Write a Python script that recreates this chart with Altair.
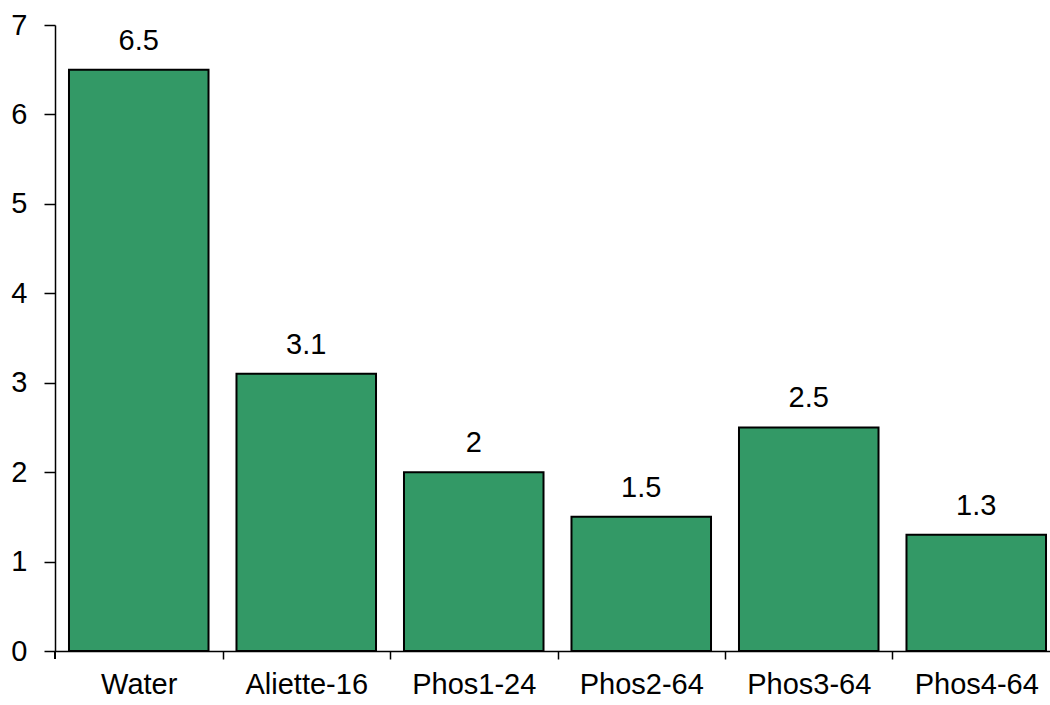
import altair as alt
import pandas as pd

categories = ["Water", "Aliette-16", "Phos1-24", "Phos2-64", "Phos3-64", "Phos4-64"]
values = [6.5, 3.1, 2.0, 1.5, 2.5, 1.3]
labels = ["6.5", "3.1", "2", "1.5", "2.5", "1.3"]
y_ticks = [0, 1, 2, 3, 4, 5, 6, 7]

df = pd.DataFrame({"cat": categories, "val": values, "lab": labels})

FONT = "Liberation Sans"
FS = 29

x_axis = alt.Axis(
    labelAngle=0,
    labelFont=FONT,
    labelFontSize=FS,
    labelColor="black",
    labelPadding=11,
    tickOffset=83.75,
    labelOffset=-83.75,
    tickSize=8,
    tickColor="black",
    tickWidth=1.5,
    domainColor="black",
    domainWidth=1.5,
    grid=False,
)
x_scale = alt.Scale(range=[0, 1005], paddingInner=0.167, paddingOuter=0.0835)

y_axis = alt.Axis(
    values=y_ticks,
    format="d",
    labelFont=FONT,
    labelFontSize=FS,
    labelColor="black",
    labelPadding=17,
    tickSize=11,
    tickColor="black",
    tickWidth=1.5,
    domainColor="black",
    domainWidth=1.5,
    grid=False,
)
y_scale = alt.Scale(domain=[0, 7], nice=False, zero=True)

x = alt.X("cat:N", sort=categories, title=None, scale=x_scale, axis=x_axis)
y = alt.Y("val:Q", title=None, scale=y_scale, axis=y_axis)

bars = alt.Chart(df).mark_bar(
    color="#339966", stroke="black", strokeWidth=2
).encode(x=x, y=y)

text = alt.Chart(df).mark_text(
    font=FONT, fontSize=FS, color="black", baseline="alphabetic", dy=-20
).encode(x=x, y=y, text="lab:N")

first_tick = alt.Chart(df).mark_rule(color="black", strokeWidth=1.5).encode(
    x=alt.value(0), y=alt.value(626), y2=alt.value(634)
)

chart = (
    alt.layer(bars, text, first_tick)
    .properties(
        width=995,
        height=626,
        background="white",
        autosize=alt.AutoSizeParams(type="none"),
        padding={"left": 55, "top": 25, "right": 0, "bottom": 54},
    )
    .configure_view(strokeWidth=0, strokeOpacity=0)
    .configure_axis(grid=False)
)

chart.save("out.html", embed_options={"renderer": "svg", "actions": False})
